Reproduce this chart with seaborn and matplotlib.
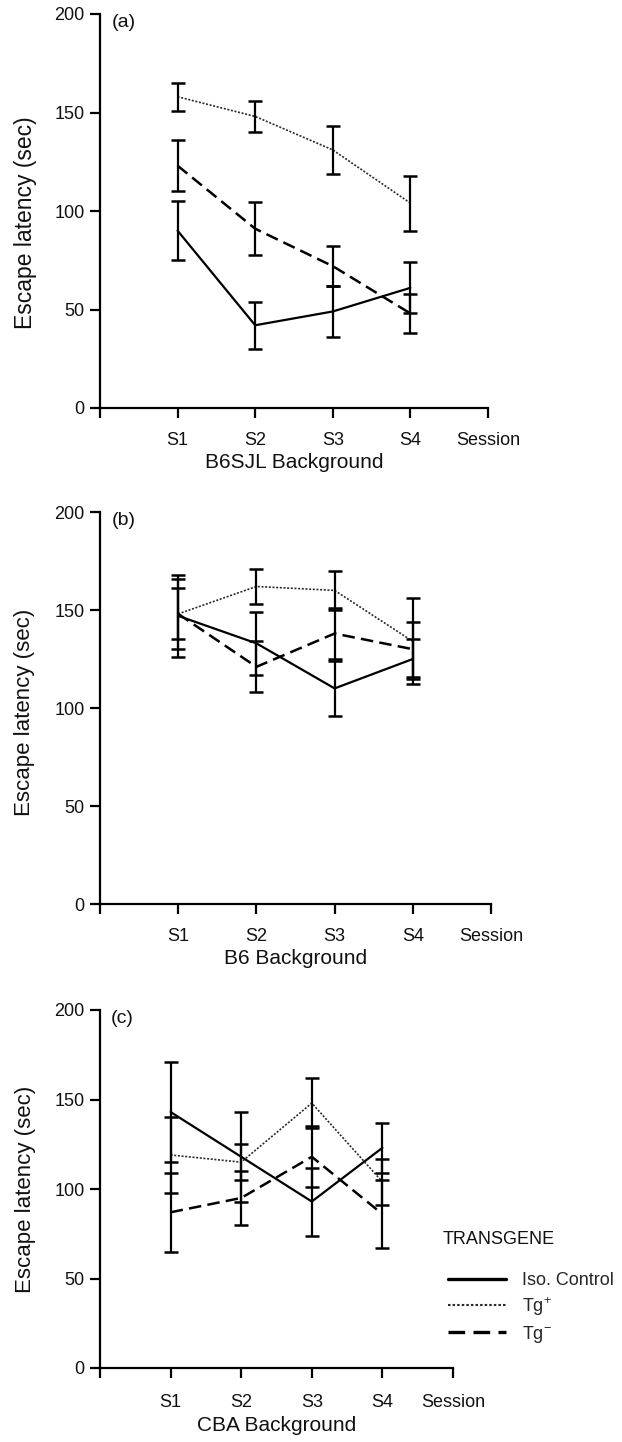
import numpy as np
import pandas as pd
import matplotlib
matplotlib.use("Agg")
import matplotlib.pyplot as plt
import seaborn as sns

# values (mean +/- error)
sessions = ["S1", "S2", "S3", "S4"]
session_pos = [1, 2, 3, 4]
tick_labels = ["", "S1", "S2", "S3", "S4", "Session"]
groups = ["Iso. Control", "Tg+", "Tg-"]
legend_labels = ["Iso. Control", "Tg$^{+}$", "Tg$^{-}$"]

b6sjl_iso = [90, 42, 49, 61]
b6sjl_iso_err = [15, 12, 13, 13]
b6sjl_tgp = [158, 148, 131, 104]
b6sjl_tgp_err = [7, 8, 12, 14]
b6sjl_tgm = [123, 91, 72, 48]
b6sjl_tgm_err = [13, 13.5, 10, 10]

b6_iso = [147, 133, 110, 125]
b6_iso_err = [21, 16, 14, 10]
b6_tgp = [148, 162, 160, 134]
b6_tgp_err = [18, 9, 10, 22]
b6_tgm = [148, 121, 138, 130]
b6_tgm_err = [13, 13, 13, 14]

cba_iso = [143, 118, 93, 123]
cba_iso_err = [28, 25, 19, 14]
cba_tgp = [119, 115, 148, 104]
cba_tgp_err = [21, 10, 14, 13]
cba_tgm = [87, 95, 118, 86]
cba_tgm_err = [22, 15, 17, 19]

panels = [
    ("(a)", "B6SJL Background", [b6sjl_iso, b6sjl_tgp, b6sjl_tgm],
     [b6sjl_iso_err, b6sjl_tgp_err, b6sjl_tgm_err]),
    ("(b)", "B6 Background", [b6_iso, b6_tgp, b6_tgm],
     [b6_iso_err, b6_tgp_err, b6_tgm_err]),
    ("(c)", "CBA Background", [cba_iso, cba_tgp, cba_tgm],
     [cba_iso_err, cba_tgp_err, cba_tgm_err]),
]

sns.set_style("ticks")
plt.rcParams["font.family"] = ["Liberation Sans", "DejaVu Sans"]
plt.rcParams["mathtext.fontset"] = "custom"
plt.rcParams["mathtext.rm"] = "Liberation Sans"
plt.rcParams["mathtext.it"] = "Liberation Sans"

line_styles = {
    "Iso. Control": dict(linestyle="-", lw=1.6, color="black"),
    "Tg+": dict(linestyle=(0, (1.2, 1.0)), lw=1.2, color="#2a2a2a"),
    "Tg-": dict(linestyle=(0, (5, 2.5)), lw=1.8, color="black"),
}

W, H = 622, 1442
fig = plt.figure(figsize=(W / 100, H / 100), dpi=100)

# axes boxes in pixels: left, right, top (y=200), bottom (y=0)
boxes = [(100, 488, 14, 408), (100, 491, 512, 904), (100, 453, 1010, 1368)]
# y-label size and centre (in data units) per panel
ylab = [(16.5, 94), (16, 98), (16, 100)]
xpads = [10, 10, 12]

for (tag, xlabel, means, errs), (l, r, t, b), (ysz, yc), xp in zip(
        panels, boxes, ylab, xpads):
    ax = fig.add_axes([l / W, 1 - b / H, (r - l) / W, (b - t) / H])
    for g, m, e in zip(groups, means, errs):
        df = pd.DataFrame({"pos": session_pos, "latency": m})
        sns.lineplot(data=df, x="pos", y="latency", ax=ax, errorbar=None,
                     legend=False, **line_styles[g])
        ax.errorbar(session_pos, m, yerr=e, fmt="none", ecolor="black",
                    elinewidth=1.6, capsize=5, capthick=1.8, zorder=3)
    ax.set_xlim(0, 5)
    ax.set_ylim(0, 200)
    ax.set_xticks(range(6))
    ax.set_xticklabels(tick_labels)
    ax.set_yticks([0, 50, 100, 150, 200])
    ax.tick_params(axis="both", direction="out", length=7, width=1.6,
                   labelsize=13, color="black", labelcolor="#111111")
    ax.tick_params(axis="x", pad=xp)
    ax.tick_params(axis="y", pad=4)
    for s in ["top", "right"]:
        ax.spines[s].set_visible(False)
    for s in ["left", "bottom"]:
        ax.spines[s].set_linewidth(1.6)
        ax.spines[s].set_color("black")
    ax.set_xlabel(xlabel, fontsize=15, labelpad=3, color="#111111")
    ax.set_ylabel("Escape latency (sec)", fontsize=ysz, color="#111111",
                  va="center")
    ax.yaxis.set_label_coords((25 - l) / (r - l), yc / 200)
    ax.text(0.03, 1.0, tag, transform=ax.transAxes, fontsize=14,
            va="top", ha="left", color="#111111")
    ax.set_facecolor("white")

handles = [plt.Line2D([], [], **line_styles[g]) for g in groups]
handles[1].set_linewidth(1.5)
handles[0].set_linewidth(2.4)
handles[2].set_linewidth(2.4)
fig.text(443 / W, 1 - 1240 / H, "TRANSGENE", fontsize=13, va="center",
         ha="left", color="#111111")
fig.legend(handles, legend_labels, loc="upper left",
           bbox_to_anchor=(432 / W, 1 - 1256 / H), frameon=False,
           fontsize=13, handlelength=3.2, handletextpad=0.9,
           labelspacing=0.32)

fig.savefig("out.png", dpi=100, facecolor="white")
